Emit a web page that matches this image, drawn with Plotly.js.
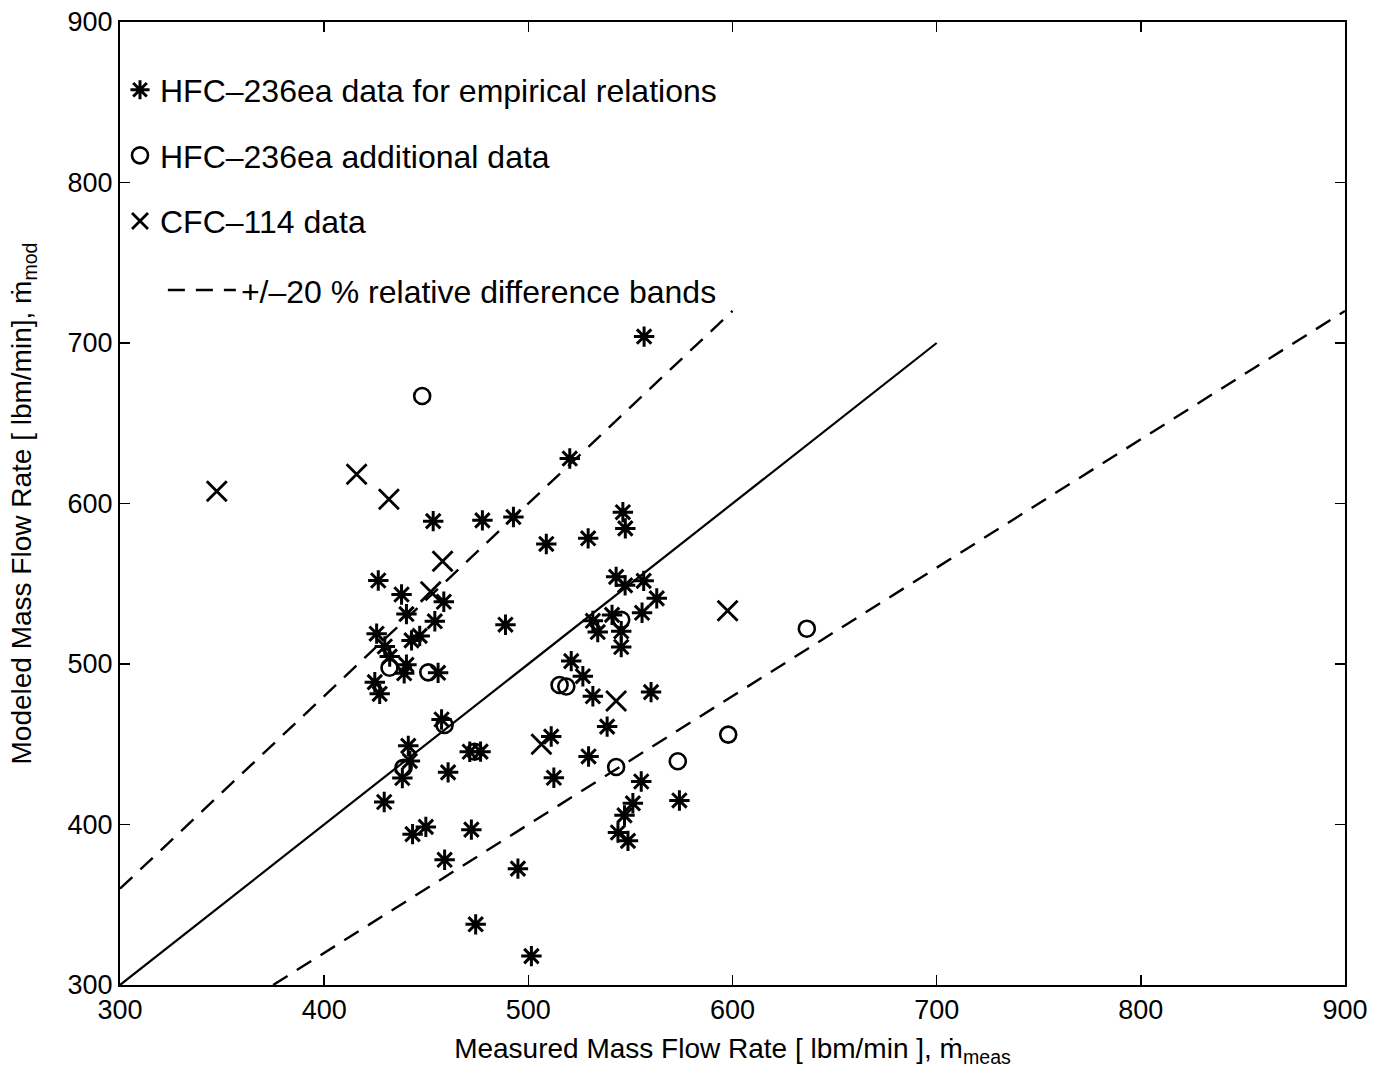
<!DOCTYPE html>
<html>
<head>
<meta charset="utf-8">
<script src="https://cdn.plot.ly/plotly-3.0.1.min.js"></script>
<style>html,body{margin:0;padding:0;background:#fff;}#chart{width:1390px;height:1088px;}</style>
</head>
<body>
<div id="chart"></div>
<script>
// HFC-236ea data for empirical relations (asterisks)
const empMeas = [556.7,520.3,453.4,477.5,492.7,508.8,529.3,546.3,547.5,543,547.4,556.5,562.9,555.7,541,531.6,488.8,
  426.5,437.9,458.6,440.3,454.2,425.7,429.7,442.8,446.8,432.1,440.3,424.8,427.2,439.2,455.8,457.5,441.2,442,438.3,429.4,
  460.7,471.3,476.6,443.3,449.8,472.1,459,494.9,474.2,501.5,534,545.5,545.5,521,526.7,531.6,560.1,538.6,511.2,529.5,
  512.5,555.3,551.2,547.1,543.9,548.8,574];
const empMod = [704,628,589,589.5,591.6,574.8,578.3,594.6,584.5,554.3,549,551.8,540.9,531.9,530.6,526.9,524.5,
  552,543.3,538.8,531.1,526.6,518.9,510.9,514.7,517.5,504.6,499.5,488.7,481.4,494.2,494.5,465.4,449,439.6,429,414,
  432.5,445.3,445.4,394,398.5,396.8,378,372.5,337.8,318,519.9,520.4,510.6,501.8,492.4,479.9,482.5,461,454.8,442.4,
  429.1,426.8,413.2,405.7,395,389.8,415];

// HFC-236ea additional data (circles)
const addMeas = [448,432,451,459,438.9,473.7,515.3,518.6,545.5,543,573.2,597.9,636.4];
const addMod  = [667,497.7,494.8,462,435.4,445.3,486.9,486,527.5,435.8,439.4,456,522];

// CFC-114 data (crosses)
const cfcMeas = [347.4,415.9,431.7,458,452.2,543,506.4,597.6];
const cfcMod  = [607.7,618.2,602.7,564,545,476.9,450,533.2];

// reference lines: 1:1 line and +/-20 % bands
const fitX = [300, 700];
const upperX = [300, 600];
const lowerX = [375, 900];
const upperRatio = 1.2;
const lowerRatio = 0.8;

const xTicks = [300,400,500,600,700,800,900];
const yTicks = [300,400,500,600,700,800,900];

const FONT = "Liberation Sans, Arial, Helvetica, sans-serif";
const DASH = '17px,11px';

const traces = [
  {x: empMeas, y: empMod, mode: 'markers', type: 'scatter',
   name: 'HFC–236ea data for empirical relations', legendgroup: 'a', legend: 'legend',
   marker: {symbol: 'asterisk-open', size: 17, color: '#000', line: {color: '#000', width: 3}}},
  {x: addMeas, y: addMod, mode: 'markers', type: 'scatter',
   name: 'HFC–236ea additional data', legendgroup: 'b', legend: 'legend',
   marker: {symbol: 'circle-open', size: 16, color: '#000', line: {color: '#000', width: 2.6}}},
  {x: cfcMeas, y: cfcMod, mode: 'markers', type: 'scatter',
   name: 'CFC–114 data', legendgroup: 'c', legend: 'legend',
   marker: {symbol: 'x-thin-open', size: 20, color: '#000', line: {color: '#000', width: 2.8}}},
  {x: upperX, y: upperX.map(v => v * upperRatio), mode: 'lines', type: 'scatter',
   name: '+/–20 % relative difference bands', legendgroup: 'd', legend: 'legend2',
   line: {color: '#000', width: 2.4, dash: DASH}},
  {x: lowerX, y: lowerX.map(v => v * lowerRatio), mode: 'lines', type: 'scatter',
   name: 'lower band', legendgroup: 'd', showlegend: false,
   line: {color: '#000', width: 2.4, dash: DASH}},
  {x: fitX, y: fitX, mode: 'lines', type: 'scatter', showlegend: false,
   line: {color: '#000', width: 2.2}}
];

const layout = {
  width: 1390, height: 1088,
  margin: {l: 120, r: 45, t: 22, b: 103},
  paper_bgcolor: '#fff', plot_bgcolor: '#fff',
  font: {family: FONT, color: '#000', size: 26},
  showlegend: true,
  legend: {x: 0.0, y: 0.958, xanchor: 'left', yanchor: 'top', bgcolor: 'rgba(0,0,0,0)',
           font: {family: FONT, size: 32, color: '#000'}, traceorder: 'grouped', tracegroupgap: 21,
           itemwidth: 30},
  legend2: {x: 0.035, y: 0.75, xanchor: 'left', yanchor: 'top', bgcolor: 'rgba(0,0,0,0)',
           font: {family: FONT, size: 32, color: '#000'}, itemwidth: 68},
  xaxis: {range: [300, 900], tickvals: xTicks, ticktext: xTicks.map(String),
          ticks: 'inside', ticklen: 10, tickwidth: 1.5, tickcolor: '#000',
          showline: true, linecolor: '#000', linewidth: 2, mirror: 'ticks',
          showgrid: false, zeroline: false, tickfont: {size: 27},
          title: {text: 'Measured Mass Flow Rate [ lbm/min ], ṁ<sub>meas</sub>', font: {size: 28}, standoff: 14}},
  yaxis: {range: [300, 900], tickvals: yTicks, ticktext: yTicks.map(String),
          ticks: 'inside', ticklen: 10, tickwidth: 1.5, tickcolor: '#000',
          showline: true, linecolor: '#000', linewidth: 2, mirror: 'ticks',
          showgrid: false, zeroline: false, tickfont: {size: 27},
          title: {text: 'Modeled Mass Flow Rate [ lbm/min], ṁ<sub>mod</sub>', font: {size: 28}, standoff: 28}}
};

Plotly.newPlot('chart', traces, layout, {displayModeBar: false, staticPlot: true});
</script>
</body>
</html>
